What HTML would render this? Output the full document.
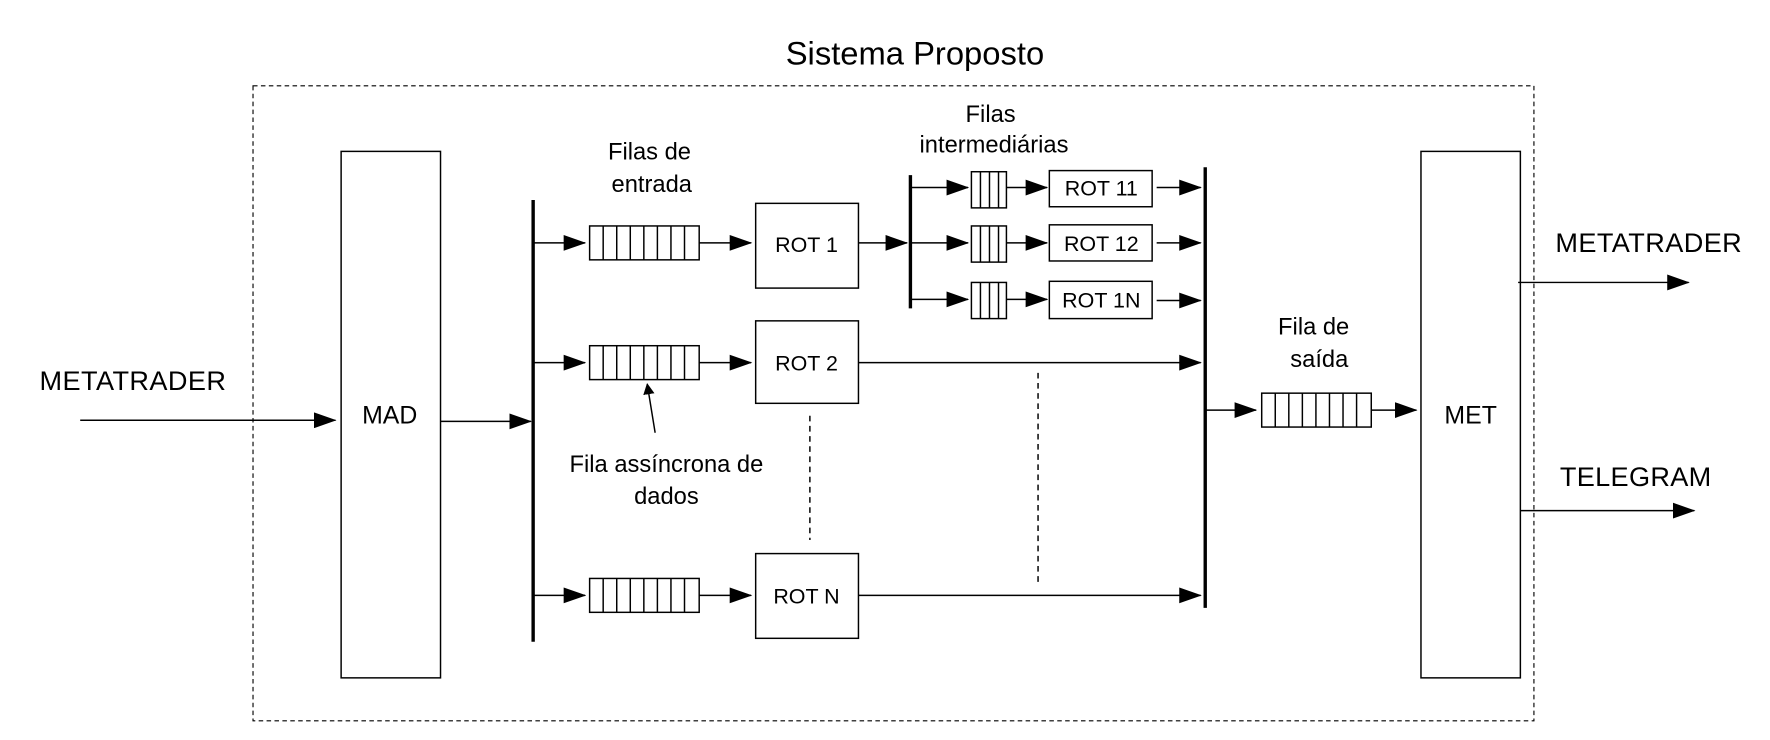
<!DOCTYPE html>
<html><head><meta charset="utf-8"><style>
html,body{margin:0;padding:0;background:#fff;}
svg{display:block}
text{font-family:"Liberation Sans",sans-serif;fill:#000}
</style></head><body>
<svg width="1770" height="740" viewBox="0 0 1567 655" preserveAspectRatio="none" xmlns="http://www.w3.org/2000/svg">
<defs>
<marker id="a" markerWidth="10" markerHeight="10" refX="9" refY="5" orient="auto" markerUnits="userSpaceOnUse"><path d="M0,0 L10,5 L0,10 z" fill="#000"/></marker>
<marker id="b" markerWidth="20" markerHeight="14" refX="19" refY="7" orient="auto" markerUnits="userSpaceOnUse"><path d="M0,0 L20,7 L0,14 z" fill="#000"/></marker>
</defs>
<g stroke="#000" fill="none" stroke-width="1.3">
<text x="810" y="57" font-size="29" text-anchor="middle" stroke="none">Sistema Proposto</text>
<rect x="224" y="76" width="1134" height="562" stroke-dasharray="4,3" stroke-width="1"/>
<rect x="302" y="134" width="88" height="466" fill="#fff"/>
<rect x="1258" y="134" width="88" height="466" fill="#fff"/>
<line x1="71" y1="372" x2="297" y2="372" marker-end="url(#b)"/>
<line x1="390" y1="373" x2="470" y2="373" marker-end="url(#b)"/>
<line x1="472" y1="177" x2="472" y2="568" stroke-width="3"/>
<line x1="472" y1="215" x2="518" y2="215" marker-end="url(#b)"/>
<line x1="472" y1="321" x2="518" y2="321" marker-end="url(#b)"/>
<line x1="472" y1="527" x2="518" y2="527" marker-end="url(#b)"/>
<line x1="619" y1="215" x2="665" y2="215" marker-end="url(#b)"/>
<line x1="619" y1="321" x2="665" y2="321" marker-end="url(#b)"/>
<line x1="619" y1="527" x2="665" y2="527" marker-end="url(#b)"/>
<g>
<rect x="522" y="200" width="97" height="30"/><rect x="522" y="306" width="97" height="30"/><rect x="522" y="512" width="97" height="30"/>
<rect x="1117" y="348" width="97" height="30"/>
<path d="M534 200v30M546 200v30M558 200v30M570 200v30M582 200v30M594 200v30M606 200v30
M534 306v30M546 306v30M558 306v30M570 306v30M582 306v30M594 306v30M606 306v30
M534 512v30M546 512v30M558 512v30M570 512v30M582 512v30M594 512v30M606 512v30
M1129 348v30M1141 348v30M1153 348v30M1165 348v30M1177 348v30M1189 348v30M1201 348v30"/>
</g>
<rect x="669" y="180" width="91" height="75"/>
<rect x="669" y="284" width="91" height="73"/>
<rect x="669" y="490" width="91" height="75"/>
<text x="714" y="223" font-size="19" text-anchor="middle" stroke="none">ROT 1</text>
<text x="714" y="328" font-size="19" text-anchor="middle" stroke="none">ROT 2</text>
<text x="714" y="534" font-size="19" text-anchor="middle" stroke="none">ROT N</text>
<line x1="760" y1="215" x2="803" y2="215" marker-end="url(#b)"/>
<line x1="806" y1="155" x2="806" y2="273" stroke-width="3"/>
<line x1="806" y1="166" x2="857" y2="166" marker-end="url(#b)"/>
<line x1="806" y1="215" x2="857" y2="215" marker-end="url(#b)"/>
<line x1="806" y1="265" x2="857" y2="265" marker-end="url(#b)"/>
<rect x="860" y="152" width="31" height="32"/><rect x="860" y="200" width="31" height="32"/><rect x="860" y="250" width="31" height="32"/>
<path d="M868 152v32M876 152v32M884 152v32M868 200v32M876 200v32M884 200v32M868 250v32M876 250v32M884 250v32"/>
<line x1="891" y1="166" x2="927" y2="166" marker-end="url(#b)"/>
<line x1="891" y1="215" x2="927" y2="215" marker-end="url(#b)"/>
<line x1="891" y1="265" x2="927" y2="265" marker-end="url(#b)"/>
<rect x="929" y="151" width="91" height="32"/><rect x="929" y="199" width="91" height="32"/><rect x="929" y="249" width="91" height="33"/>
<text x="975" y="173" font-size="19" text-anchor="middle" stroke="none">ROT 11</text>
<text x="975" y="222" font-size="19" text-anchor="middle" stroke="none">ROT 12</text>
<text x="975" y="272" font-size="19" text-anchor="middle" stroke="none">ROT 1N</text>
<line x1="1024" y1="166" x2="1063" y2="166" marker-end="url(#b)"/>
<line x1="1024" y1="215" x2="1063" y2="215" marker-end="url(#b)"/>
<line x1="1024" y1="266" x2="1063" y2="266" marker-end="url(#b)"/>
<line x1="1067" y1="148" x2="1067" y2="538" stroke-width="3"/>
<line x1="760" y1="321" x2="1063" y2="321" marker-end="url(#b)"/>
<line x1="760" y1="527" x2="1063" y2="527" marker-end="url(#b)"/>
<line x1="717" y1="368" x2="717" y2="478" stroke-dasharray="5,4"/>
<line x1="919" y1="330" x2="919" y2="516" stroke-dasharray="5,4"/>
<line x1="1067" y1="363" x2="1112" y2="363" marker-end="url(#b)"/>
<line x1="1214" y1="363" x2="1254" y2="363" marker-end="url(#b)"/>
<line x1="1344" y1="250" x2="1495" y2="250" marker-end="url(#b)"/>
<line x1="1346" y1="452" x2="1500" y2="452" marker-end="url(#b)"/>
<line x1="580" y1="383" x2="573" y2="340" marker-end="url(#a)"/>
</g>
<g font-size="21" text-anchor="middle">
<text x="345" y="375" font-size="22">MAD</text>
<text x="1302" y="375" font-size="22">MET</text>
<text x="575" y="141">Filas de</text>
<text x="577" y="170">entrada</text>
<text x="877" y="108">Filas</text>
<text x="880" y="135">intermediárias</text>
<text x="1163" y="296">Fila de</text>
<text x="1168" y="325">saída</text>
<text x="590" y="418">Fila assíncrona de</text>
<text x="590" y="446">dados</text>
</g>
<g font-size="24">
<text x="35" y="345" textLength="165">METATRADER</text>
<text x="1377" y="223" textLength="165">METATRADER</text>
<text x="1381" y="430" textLength="134">TELEGRAM</text>
</g>
</svg>
</body></html>
